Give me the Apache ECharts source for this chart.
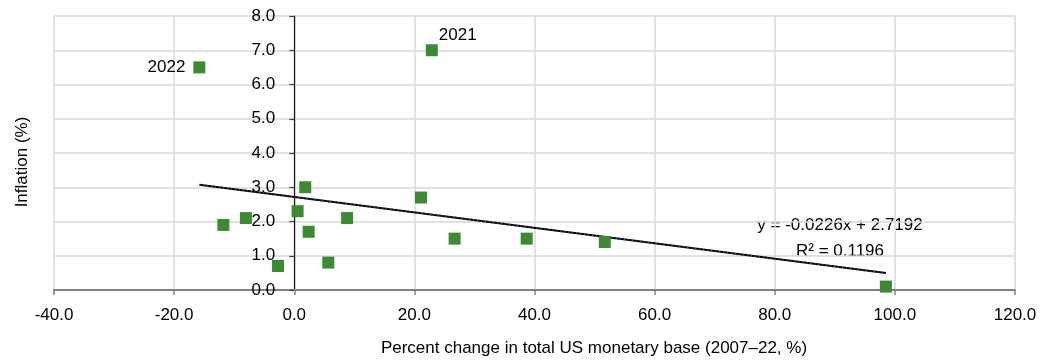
<!DOCTYPE html>
<html>
<head>
<meta charset="utf-8">
<script src="https://cdn.jsdelivr.net/npm/echarts@6/dist/echarts.min.js"></script>
<style>
  html, body { margin: 0; padding: 0; background: #fff; }
  #chart { width: 1041px; height: 361px; }
</style>
</head>
<body>
<div id="chart"></div>
<script>
// Percent change in total US monetary base vs inflation, one point per year
const monetaryBaseChange = [-15.8, 22.9, -11.8, -8.05, -2.7, 0.56, 1.83, 2.4, 5.67, 8.8, 21.1, 26.7, 38.7, 51.7, 98.5];
const inflation          = [6.5, 7.0, 1.9, 2.1, 0.7, 2.3, 3.0, 1.7, 0.8, 2.1, 2.7, 1.5, 1.5, 1.4, 0.1];
const pointLabels        = ['2022', '2021', '', '', '', '', '', '', '', '', '', '', '', '', ''];

// Linear trend line: y = slope * x + intercept, R²
const trendSlope = -0.0226;
const trendIntercept = 2.7192;
const trendR2 = 0.1196;

const xTicks = { min: -40, max: 120, interval: 20 };
const yTicks = { min: 0, max: 8, interval: 1 };

const FONT = '"Liberation Sans", Arial, sans-serif';
const GREEN = '#3e8a34';
const GRID = { left: 54, right: 26, top: 16, bottom: 71 };

const points = monetaryBaseChange.map((x, i) => {
  const item = { value: [x, inflation[i]] };
  if (pointLabels[i] === '2022') {
    item.label = { show: true, formatter: pointLabels[i], position: 'left', distance: 8 };
  } else if (pointLabels[i] === '2021') {
    item.label = { show: true, formatter: pointLabels[i], position: 'right', distance: 1, offset: [0, -15] };
  }
  return item;
});

const xLo = Math.min(...monetaryBaseChange);
const xHi = Math.max(...monetaryBaseChange);
const trend = [[xLo, trendSlope * xLo + trendIntercept], [xHi, trendSlope * xHi + trendIntercept]];

// the value axis crosses at x = 0, so its labels sit next to that line
const plotWidth = 1041 - GRID.left - GRID.right;
const zeroX = GRID.left + plotWidth * (0 - xTicks.min) / (xTicks.max - xTicks.min);
const yLabelGap = 19;

const chart = echarts.init(document.getElementById('chart'), null, { renderer: 'canvas' });
chart.setOption({
  animation: false,
  backgroundColor: '#fff',
  grid: Object.assign({ containLabel: false }, GRID),
  xAxis: {
    type: 'value',
    min: xTicks.min, max: xTicks.max, interval: xTicks.interval,
    axisLine: { onZero: false, lineStyle: { color: '#808080', width: 2 } },
    axisTick: { show: true, length: 5, lineStyle: { color: '#808080', width: 1.5 } },
    axisLabel: { color: '#000', fontFamily: FONT, fontSize: 17, margin: 17,
                 formatter: v => v.toFixed(1) },
    splitLine: { show: true, lineStyle: { color: '#d9d9d9', width: 1.5 } }
  },
  yAxis: {
    type: 'value',
    min: yTicks.min, max: yTicks.max, interval: yTicks.interval,
    axisLine: { onZero: true, lineStyle: { color: '#1a1a1a', width: 1.2 } },
    axisTick: { show: true, length: 5, lineStyle: { color: '#404040', width: 1.2 } },
    axisLabel: { color: '#000', fontFamily: FONT, fontSize: 17,
                 margin: yLabelGap - (zeroX - GRID.left),
                 formatter: v => v.toFixed(1) },
    splitLine: { show: true, lineStyle: { color: '#d9d9d9', width: 1.5 } }
  },
  series: [
    {
      type: 'line',
      data: trend,
      symbol: 'none',
      lineStyle: { color: '#000', width: 2 },
      z: 3,
      silent: true
    },
    {
      type: 'line',
      data: trend,
      symbol: 'none',
      lineStyle: { color: '#4f7fd0', width: 1, type: [1, 3] },
      z: 4,
      silent: true
    },
    {
      type: 'scatter',
      data: points,
      symbol: 'rect',
      symbolSize: 12,
      itemStyle: { color: GREEN, opacity: 1 },
      label: { color: '#000', fontFamily: FONT, fontSize: 17 },
      z: 5
    }
  ],
  graphic: [
    {
      type: 'text',
      style: { text: 'y = ' + trendSlope + 'x + ' + trendIntercept, font: '17px ' + FONT,
               fill: '#000', textAlign: 'center', textVerticalAlign: 'middle' },
      x: 840, y: 225
    },
    {
      type: 'text',
      style: { text: 'R² = ' + trendR2, font: '17px ' + FONT,
               fill: '#000', textAlign: 'center', textVerticalAlign: 'middle' },
      x: 840, y: 251
    },
    {
      type: 'text',
      style: { text: 'Percent change in total US monetary base (2007–22, %)', font: '17px ' + FONT,
               fill: '#000', textAlign: 'center', textVerticalAlign: 'middle' },
      x: 594, y: 348
    },
    {
      type: 'text',
      style: { text: 'Inflation (%)', font: '17px ' + FONT,
               fill: '#000', textAlign: 'center', textVerticalAlign: 'middle' },
      x: 22, y: 162, rotation: Math.PI / 2
    }
  ]
});
</script>
</body>
</html>
